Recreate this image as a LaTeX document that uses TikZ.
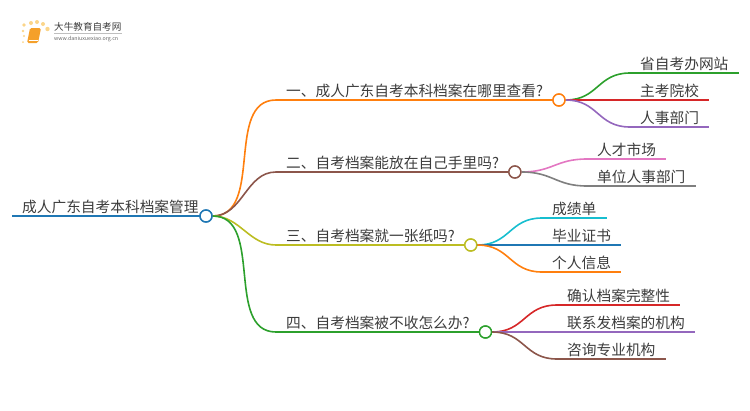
\documentclass[tikz,border=0pt]{standalone}
\usepackage{fontspec}
\usepackage{tikz}
\usetikzlibrary{positioning}
\setmainfont{Noto Sans CJK SC}
\definecolor{tblue}{HTML}{1F77B4}
\definecolor{torange}{HTML}{FF7F0E}
\definecolor{tbrown}{HTML}{8C564B}
\definecolor{tolive}{HTML}{BCBD22}
\definecolor{tgreen}{HTML}{2CA02C}
\definecolor{tred}{HTML}{D62728}
\definecolor{tpurple}{HTML}{9467BD}
\definecolor{tpink}{HTML}{E377C2}
\definecolor{tgray}{HTML}{7F7F7F}
\definecolor{tcyan}{HTML}{17BECF}
\definecolor{inkgray}{HTML}{3C3C3C}
\definecolor{logoyellow}{HTML}{FBD58A}
\definecolor{bookorange}{HTML}{F5A02A}
\tikzset{
  tagtext/.style={anchor=south west,inner xsep=10pt,inner ysep=1.2pt,text height=12pt,text depth=2.5pt,
    text=inkgray,font=\fontsize{14.7}{16}\selectfont},
  knot/.style={circle,draw,fill=white,line width=1.4pt,minimum size=12pt,inner sep=0pt,anchor=west},
  stemline/.style={line width=2pt},
  curveline/.style={line width=1.6pt,out=0,in=180}
}
\begin{document}
\begin{tikzpicture}[x=1pt,y=-1pt]
\useasboundingbox (0,0) rectangle (750,410);

% logo
\foreach \dx/\dy/\dr in {24/25/1.8,31/23/2,37/22/2,43/24/2,47.5/29/2.2,23/31/1.4,24/36/1.2,23/42/1}
    \fill[logoyellow] (\dx,\dy) circle (\dr);
\fill[bookorange,rounded corners=1.5pt] (30,28) -- (41,28) -- (38,43) -- (27,43) -- cycle;
\draw[white,line width=0.6pt] (28.5,40) -- (38,40);
\node[inner sep=0pt,anchor=west,text=inkgray,font=\fontsize{9.6}{10}\selectfont] (brand) at (54,27) {大牛教育自考网};
\draw[black!25,line width=0.5pt] (54,33.5) -- (122,33.5);
\node[inner sep=0pt,anchor=west,text=black!60,font=\fontsize{5.3}{6}\selectfont] (site) at (54,39) {www.daniuxuexiao.org.cn};

% root
\node[tagtext] (root) at (12,216) {成人广东自考本科档案管理};
\draw[tblue,line width=2.5pt] (root.south west) -- (root.south east);
\node[knot,draw=tblue,anchor=center] (rootknot) at (206,216) {};

% topics
\foreach \name/\xpos/\ypos/\col/\txt in {
    topicA/276/100/torange/{一、成人广东自考本科档案在哪里查看?},
    topicB/276/172/tbrown/{二、自考档案能放在自己手里吗?},
    topicC/276/245/tolive/{三、自考档案就一张纸吗?},
    topicD/276/332/tgreen/{四、自考档案被不收怎么办?}} {
    \node[tagtext] (\name) at (\xpos,\ypos) {\txt};
    \draw[stemline,\col] (\name.south west) -- (\name.south east);
    \draw[curveline,\col] (rootknot.east) to (\name.south west);
    \node[knot,draw=\col,right=-1pt of \name.south east] (\name knot) {};
}

% leaves
\foreach \parent/\name/\xpos/\ypos/\col/\txt in {
    topicA/leafAa/630/73/tgreen/省自考办网站,
    topicA/leafAb/630/100/tred/主考院校,
    topicA/leafAc/630/127/tpurple/人事部门,
    topicB/leafBa/587/159/tpink/人才市场,
    topicB/leafBb/587/186/tgray/单位人事部门,
    topicC/leafCa/542/218/tcyan/成绩单,
    topicC/leafCb/542/245/tblue/毕业证书,
    topicC/leafCc/542/272/torange/个人信息,
    topicD/leafDa/557/305/tred/确认档案完整性,
    topicD/leafDb/557/332/tpurple/联系发档案的机构,
    topicD/leafDc/557/359/tbrown/咨询专业机构} {
    \node[tagtext] (\name) at (\xpos,\ypos) {\txt};
    \draw[stemline,\col] (\name.south west) -- (\name.south east);
    \draw[curveline,\col,looseness=1.2] (\parent knot.east) to (\name.south west);
}
% knots stay on top of the lines
\draw[tblue,line width=1.4pt,fill=white] (rootknot) circle (6);
\foreach \name/\col in {topicA/torange,topicB/tbrown,topicC/tolive,topicD/tgreen}
    \node[knot,draw=\col,anchor=center] at (\name knot.center) {};
\end{tikzpicture}
\end{document}
